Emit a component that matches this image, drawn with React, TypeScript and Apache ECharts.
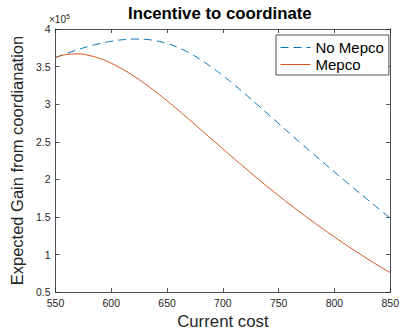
import React, { useEffect, useRef } from "react";
import * as echarts from "echarts";

const costs = [550, 560, 570, 580, 590, 600, 610, 620, 630, 640, 650, 660, 670, 680, 690, 700, 710, 720, 730, 740, 750, 760, 770, 780, 790, 800, 810, 820, 830, 840, 850];
// values in units of 1e5
const noMepco = [3.62, 3.675, 3.725, 3.77, 3.807, 3.837, 3.857, 3.866, 3.862, 3.843, 3.807, 3.753, 3.681, 3.593, 3.491, 3.379, 3.259, 3.134, 3.005, 2.874, 2.742, 2.609, 2.479, 2.351, 2.224, 2.098, 1.973, 1.849, 1.726, 1.604, 1.483];
const mepco = [3.62, 3.66, 3.668, 3.648, 3.606, 3.544, 3.466, 3.375, 3.273, 3.162, 3.044, 2.921, 2.794, 2.665, 2.535, 2.405, 2.276, 2.149, 2.024, 1.902, 1.783, 1.667, 1.554, 1.444, 1.337, 1.233, 1.132, 1.034, 0.939, 0.847, 0.758];
const seriesNames = ["No Mepco", "Mepco"];
const xTicks = { min: 550, max: 850, interval: 50 };
const yTicks = { min: 0.5, max: 4, interval: 0.5 };

const FONT = "Liberation Sans, Arial, Helvetica, sans-serif";
const AXIS = "#262626";

export default function App() {
  const ref = useRef<HTMLDivElement>(null);
  useEffect(() => {
    if (!ref.current) return;
    const chart = echarts.init(ref.current, undefined, { renderer: "svg" });
    const axisLineStyle = { lineStyle: { color: AXIS, width: 0.8 } };
    const tickStyle = { show: true, inside: true, length: 4, lineStyle: { color: AXIS, width: 0.8 } };
    chart.setOption({
      animation: false,
      backgroundColor: "#ffffff",
      title: {
        text: "Incentive to coordinate",
        left: 128,
        top: 5,
        padding: 0,
        textStyle: { fontFamily: FONT, fontSize: 16.8, fontWeight: "bold", color: "#000" },
      },
      grid: { left: 48, right: 7, top: 29, bottom: 38, containLabel: false },
      legend: {
        orient: "vertical",
        left: 276,
        top: 35,
        padding: [5, 5, 3, 4],
        itemGap: 2,
        itemWidth: 30,
        itemHeight: 14,
        borderColor: AXIS,
        borderWidth: 0.8,
        backgroundColor: "#fff",
        itemStyle: { opacity: 0, borderWidth: 0 },
        lineStyle: { width: 1 },
        textStyle: { fontFamily: FONT, fontSize: 15, color: "#000" },
        data: seriesNames,
      },
      graphic: [
        {
          type: "text",
          left: 49,
          top: 13,
          style: {
            text: "{a|×10}{b|5}",
            rich: {
              a: { fontFamily: FONT, fontSize: 10, fill: AXIS, verticalAlign: "bottom", lineHeight: 11 },
              b: { fontFamily: FONT, fontSize: 7, fill: AXIS, verticalAlign: "top", lineHeight: 8, padding: [0, 0, 5, 0] },
            },
          },
        },
      ],
      xAxis: [
        {
          type: "value",
          ...xTicks,
          position: "bottom",
          name: "Current cost",
          nameLocation: "middle",
          nameGap: 19,
          nameTextStyle: { fontFamily: FONT, fontSize: 16.8, color: AXIS },
          axisLine: { show: true, ...axisLineStyle },
          axisTick: tickStyle,
          axisLabel: { fontFamily: FONT, fontSize: 10.5, color: AXIS, margin: 5 },
          splitLine: { show: false },
        },
        {
          type: "value",
          ...xTicks,
          position: "top",
          axisLine: { show: true, ...axisLineStyle },
          axisTick: tickStyle,
          axisLabel: { show: false },
          splitLine: { show: false },
        },
      ],
      yAxis: [
        {
          type: "value",
          ...yTicks,
          position: "left",
          name: "Expected Gain from coordianation",
          nameLocation: "middle",
          nameGap: 22,
          nameTextStyle: { fontFamily: FONT, fontSize: 16.5, color: AXIS },
          axisLine: { show: true, ...axisLineStyle },
          axisTick: tickStyle,
          axisLabel: { fontFamily: FONT, fontSize: 10.5, color: AXIS, margin: 5 },
          splitLine: { show: false },
        },
        {
          type: "value",
          ...yTicks,
          position: "right",
          axisLine: { show: true, ...axisLineStyle },
          axisTick: tickStyle,
          axisLabel: { show: false },
          splitLine: { show: false },
        },
      ],
      series: [
        {
          name: seriesNames[0],
          type: "line",
          xAxisIndex: 0,
          yAxisIndex: 0,
          showSymbol: false,
          symbol: "none",
          smooth: true,
          data: costs.map((c, i) => [c, noMepco[i]]),
          lineStyle: { color: "#0072BD", width: 1, type: [8, 5] },
          itemStyle: { color: "#0072BD" },
        },
        {
          name: seriesNames[1],
          type: "line",
          xAxisIndex: 0,
          yAxisIndex: 0,
          showSymbol: false,
          symbol: "none",
          smooth: true,
          data: costs.map((c, i) => [c, mepco[i]]),
          lineStyle: { color: "#D95319", width: 1, type: "solid" },
          itemStyle: { color: "#D95319" },
        },
      ],
    });
    return () => chart.dispose();
  }, []);
  return (
    <div
      ref={ref}
      style={{ position: "fixed", left: 0, top: 0, width: 402, height: 335, background: "#fff" }}
    />
  );
}
